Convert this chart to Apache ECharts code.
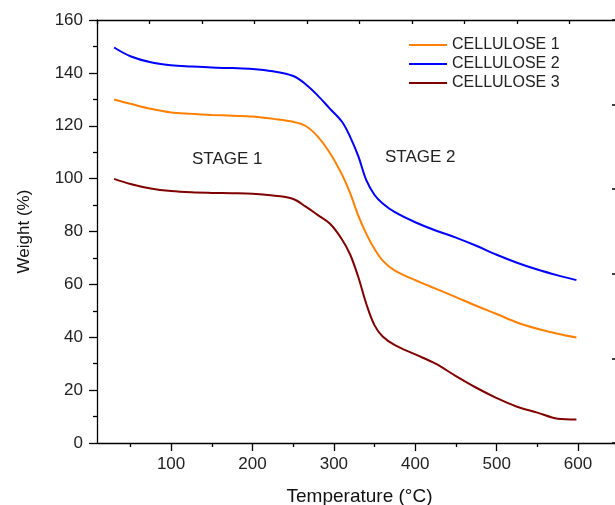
<!DOCTYPE html>
<html>
<head>
<meta charset="utf-8">
<script src="https://cdn.jsdelivr.net/npm/echarts@6/dist/echarts.min.js"></script>
<style>
html,body{margin:0;padding:0;background:#fff;}
#chart{width:615px;height:505px;}
</style>
</head>
<body>
<div id="chart"></div>
<script>
const temperature = [30, 50, 75, 100, 125, 150, 175, 200, 225, 250, 265, 280, 295, 310, 320, 330, 340, 350, 360, 375, 400, 425, 450, 475, 500, 525, 550, 575, 598];
const cellulose1 = [129.9, 128.3, 126.4, 125.0, 124.5, 124.1, 123.8, 123.5, 122.6, 121.5, 120.0, 116.0, 109.8, 101.5, 94.5, 86.0, 79.0, 73.4, 69.0, 65.2, 61.6, 58.4, 55.2, 51.9, 48.8, 45.6, 43.2, 41.3, 39.9];
const cellulose2 = [149.6, 146.3, 144.0, 142.9, 142.4, 142.0, 141.8, 141.5, 140.6, 138.8, 135.8, 131.5, 126.5, 121.5, 115.8, 108.5, 99.3, 93.8, 90.6, 87.3, 83.5, 80.4, 77.7, 74.6, 71.2, 68.2, 65.6, 63.4, 61.6];
const cellulose3 = [99.9, 98.0, 96.3, 95.3, 94.8, 94.6, 94.5, 94.3, 93.6, 92.3, 89.5, 86.3, 83.0, 77.0, 71.3, 62.8, 52.5, 44.5, 40.3, 37.0, 33.5, 30.0, 25.3, 20.9, 17.0, 13.7, 11.5, 9.2, 8.9];
const seriesNames = ['CELLULOSE 1', 'CELLULOSE 2', 'CELLULOSE 3'];
const seriesColors = ['#ff8000', '#0000ff', '#800000'];
const xMajorTicks = [100, 200, 300, 400, 500, 600];
const xMinorTicks = [50, 150, 250, 350, 450, 550, 650];
const stageLabels = ['STAGE 1', 'STAGE 2'];

const FONT = '"Liberation Sans", Arial, Helvetica, sans-serif';
const chart = echarts.init(document.getElementById('chart'), null, {renderer: 'canvas'});
const allSeries = [cellulose1, cellulose2, cellulose3];
const axisLineStyle = {color: '#000', width: 1.3};

const option = {
  backgroundColor: '#fff',
  animation: false,
  textStyle: {fontFamily: FONT},
  grid: {left: 97, top: 20, width: 525, bottom: 62, containLabel: false, outerBoundsMode: 'none'},
  legend: {
    data: seriesNames,
    orient: 'vertical',
    left: 409, top: 37,
    padding: 0,
    icon: 'rect',
    itemWidth: 38, itemHeight: 2, itemGap: 3,
    textStyle: {fontSize: 16, color: '#222', fontFamily: FONT, lineHeight: 16}
  },
  xAxis: [
    {
      type: 'value', position: 'bottom', min: 9, max: 654,
      axisLine: {show: true, lineStyle: axisLineStyle},
      axisTick: {show: true, inside: false, length: 8, lineStyle: axisLineStyle, customValues: xMajorTicks},
      axisLabel: {show: true, fontSize: 17, color: '#222', margin: 13, fontFamily: FONT, customValues: xMajorTicks},
      splitLine: {show: false},
      name: 'Temperature (°C)', nameLocation: 'middle', nameGap: 44,
      nameTextStyle: {fontSize: 19, color: '#111', fontFamily: FONT}
    },
    {
      type: 'value', position: 'bottom', min: 9, max: 654,
      axisLine: {show: false},
      axisTick: {show: true, inside: false, length: 4, lineStyle: axisLineStyle, customValues: xMinorTicks},
      axisLabel: {show: false},
      splitLine: {show: false}
    },
    {
      type: 'value', position: 'top', min: 0, max: 10, interval: 1,
      axisLine: {show: true, lineStyle: axisLineStyle},
      axisTick: {show: true, inside: true, length: 4, lineStyle: axisLineStyle},
      axisLabel: {show: false},
      splitLine: {show: false}
    }
  ],
  yAxis: [
    {
      type: 'value', position: 'left', min: 0, max: 160, interval: 20,
      axisLine: {show: true, lineStyle: axisLineStyle},
      axisTick: {show: true, inside: false, length: 8, lineStyle: axisLineStyle},
      minorTick: {show: true, splitNumber: 2, length: 4, lineStyle: {color: '#000', width: 1.3}},
      axisLabel: {show: true, fontSize: 17, color: '#222', margin: 14, fontFamily: FONT},
      splitLine: {show: false},
      minorSplitLine: {show: false},
      name: 'Weight (%)', nameLocation: 'middle', nameGap: 64, nameRotate: 90,
      nameTextStyle: {fontSize: 17, color: '#111', fontFamily: FONT}
    },
    {
      type: 'value', position: 'right', offset: -7, min: 0, max: 5, interval: 1,
      axisLine: {show: false},
      axisTick: {show: true, inside: true, length: 3, lineStyle: {color: '#000', width: 1.5}},
      axisLabel: {show: false},
      splitLine: {show: false}
    }
  ],
  graphic: [
    {type: 'text', left: 192, top: 151, style: {text: stageLabels[0], font: '17px ' + FONT, fill: '#222'}},
    {type: 'text', left: 385, top: 149, style: {text: stageLabels[1], font: '17px ' + FONT, fill: '#222'}}
  ],
  series: seriesNames.map((name, i) => ({
    name: name,
    type: 'line',
    xAxisIndex: 0,
    yAxisIndex: 0,
    data: temperature.map((t, k) => [t, allSeries[i][k]]),
    smooth: 0.35,
    symbol: 'none',
    color: seriesColors[i],
    lineStyle: {color: seriesColors[i], width: 2}
  }))
};
chart.setOption(option);
</script>
</body>
</html>
